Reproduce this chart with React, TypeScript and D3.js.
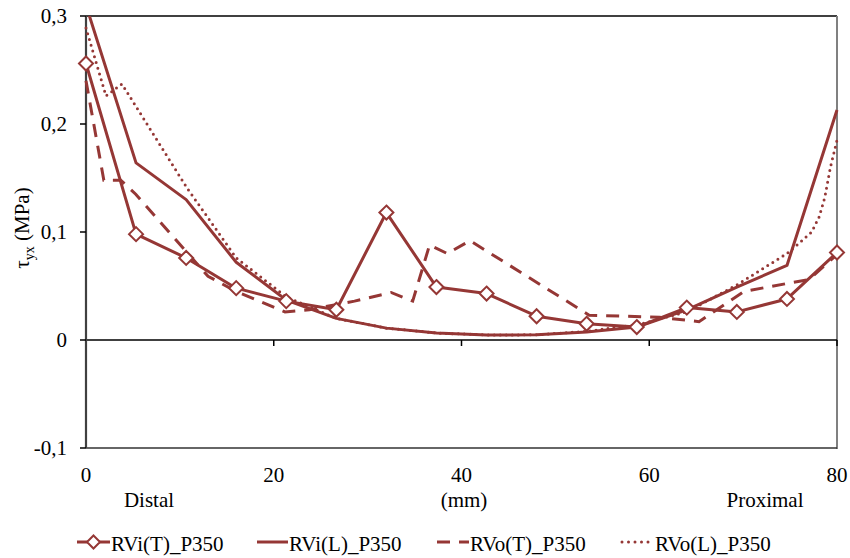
import React from "react";
import * as d3 from "d3";

// ---- data ----
const positionsMm = [0, 5.33, 10.67, 16, 21.33, 26.67, 32, 37.33, 42.67, 48, 53.33, 58.67, 64, 69.33, 74.67, 80];
const rviT = [0.256, 0.098, 0.076, 0.048, 0.036, 0.028, 0.118, 0.049, 0.043, 0.022, 0.015, 0.012, 0.030, 0.026, 0.038, 0.081];
const rviL = [0.31, 0.164, 0.130, 0.072, 0.037, 0.020, 0.011, 0.0065, 0.0046, 0.0048, 0.0074, 0.012, 0.028, 0.049, 0.069, 0.213];

const rvoTx = [0, 1.9, 3.7, 5.3, 13.0, 16.0, 21.2, 23.8, 28.6, 32.5, 34.8, 36.6, 38.5, 40.9, 53.6, 61.1, 65.3, 70.1, 77.0, 80];
const rvoTy = [0.240, 0.148, 0.148, 0.135, 0.059, 0.045, 0.026, 0.028, 0.036, 0.044, 0.036, 0.088, 0.080, 0.092, 0.023, 0.021, 0.017, 0.045, 0.056, 0.079];

const rvoLx = [0, 2.13, 3.83, 10.74, 16, 21.33, 26.67, 32, 37.33, 42.67, 48, 53.33, 58.67, 64, 69.33, 74.67, 76.0, 77.3, 78.1, 78.7, 79.3, 80];
const rvoLy = [0.289, 0.226, 0.237, 0.141, 0.076, 0.040, 0.020, 0.011, 0.0065, 0.0046, 0.0048, 0.008, 0.014, 0.026, 0.051, 0.080, 0.090, 0.100, 0.114, 0.132, 0.160, 0.185];

const xTicks = [0, 20, 40, 60, 80];
const yTicks = [0.3, 0.2, 0.1, 0, -0.1];
const seriesNames = ["RVi(T)_P350", "RVi(L)_P350", "RVo(T)_P350", "RVo(L)_P350"];

const COLOR = "#953735";
const FONT = "'Liberation Serif'";

export default function App() {
  const x = d3.scaleLinear().domain([0, 80]).range([86, 837]);
  const y = d3.scaleLinear().domain([-0.1, 0.3]).range([448, 16]);
  const line = d3
    .line<[number, number]>()
    .x((d) => x(d[0]))
    .y((d) => y(d[1]));

  const pts = (xs: number[], ys: number[]) => xs.map((v, i) => [v, ys[i]] as [number, number]);
  const fmt = (v: number) => (Math.abs(v) < 1e-9 ? "0" : d3.format(".1f")(v).replace(".", ",").replace("−", "-"));

  const diamond = (cx: number, cy: number, r = 7) =>
    `M${cx},${cy - r}L${cx + r},${cy}L${cx},${cy + r}L${cx - r},${cy}Z`;

  const [x0, x1] = x.range();
  const [yb, yt] = y.range();

  const legendY = 542;
  const legendItems = [
    { x1: 77, x2: 110, tx: 111, dash: undefined as string | undefined, cap: "butt", marker: true },
    { x1: 257, x2: 288, tx: 289, dash: undefined, cap: "butt", marker: false },
    { x1: 437, x2: 469, tx: 470, dash: "13,9", cap: "butt", marker: false },
    { x1: 622, x2: 653, tx: 655, dash: "0,6.5", cap: "round", marker: false },
  ];

  const T = (props: any) => (
    <text fontFamily="Liberation Serif" fontSize={21} fill="#000" style={{ fontFamily: FONT, fontSize: 21 }} {...props} />
  );

  return (
    <svg width={850} height={558} style={{ position: "absolute", left: 0, top: 0, background: "#fff" }}>
      <style>{`text, tspan { font-family: 'Liberation Serif' !important; }`}</style>
      <defs>
        <clipPath id="plotClip">
          <rect x={x0 - 8} y={yt} width={x1 - x0 + 16} height={yb - yt} />
        </clipPath>
      </defs>
      <rect x={0} y={0} width={850} height={558} fill="#fff" />

      {/* plot frame */}
      <line x1={x0} x2={x1} y1={yt} y2={yt} stroke="#000" strokeWidth={1.5} />
      <line x1={x1} x2={x1} y1={yt} y2={yb + 1} stroke="#808080" strokeWidth={2} />
      <line x1={x0} x2={x1} y1={yb} y2={yb} stroke="#333" strokeWidth={1.5} />
      {/* zero line / x axis */}
      <line x1={x0} x2={x1} y1={y(0)} y2={y(0)} stroke="#000" strokeWidth={1.5} />
      {xTicks.map((t) => (
        <line key={"xt" + t} x1={x(t)} x2={x(t)} y1={y(0)} y2={y(0) + 6} stroke="#000" strokeWidth={1.5} />
      ))}
      {/* y axis */}
      <line x1={x0} x2={x0} y1={yt} y2={yb} stroke="#404040" strokeWidth={2.2} />
      {yTicks.map((t) => (
        <line key={"yt" + t} x1={x0 - 6} x2={x0} y1={y(t)} y2={y(t)} stroke="#000" strokeWidth={1.5} />
      ))}

      {/* tick labels */}
      {yTicks.map((t) => (
        <T key={"yl" + t} x={67} y={y(t) + 7}  textAnchor="end">
          {fmt(t)}
        </T>
      ))}
      {xTicks.map((t) => (
        <T key={"xl" + t} x={x(t)} y={482} textAnchor="middle">
          {t}
        </T>
      ))}
      <T x={149} y={507} textAnchor="middle">Distal</T>
      <T x={464} y={507} textAnchor="middle">(mm)</T>
      <T x={765} y={507} textAnchor="middle">Proximal</T>

      {/* y axis title */}
      <T transform="translate(29,228) rotate(-90)" textAnchor="middle">
        <tspan>τ</tspan>
        <tspan fontSize={14} style={{ fontSize: 14 }} dy={5}>yx</tspan>
        <tspan dy={-5}> (MPa)</tspan>
      </T>

      {/* series */}
      <g clipPath="url(#plotClip)" fill="none" stroke={COLOR}>
        <path d={line(pts(rvoLx, rvoLy)) || ""} strokeWidth={3} strokeDasharray="0,6" strokeLinecap="round" />
        <path d={line(pts(rvoTx, rvoTy)) || ""} strokeWidth={3} strokeDasharray="13,9" />
        <path d={line(pts(positionsMm, rviL)) || ""} strokeWidth={3} strokeLinejoin="round" />
        <path d={line(pts(positionsMm, rviT)) || ""} strokeWidth={3} strokeLinejoin="round" />
      </g>
      <g>
        {positionsMm.map((p, i) => (
          <path key={"m" + i} d={diamond(x(p), y(rviT[i]))} fill="#fff" stroke={COLOR} strokeWidth={2} />
        ))}
      </g>

      {/* legend */}
      {legendItems.map((it, i) => (
        <g key={"lg" + i}>
          <line
            x1={it.x1}
            x2={it.x2}
            y1={legendY}
            y2={legendY}
            stroke={COLOR}
            strokeWidth={3}
            strokeDasharray={it.dash}
            strokeLinecap={it.cap as any}
          />
          {it.marker && (
            <path d={diamond((it.x1 + it.x2) / 2, legendY, 6.5)} fill="#fff" stroke={COLOR} strokeWidth={2} />
          )}
          <T x={it.tx} y={551}>
            {seriesNames[i]}
          </T>
        </g>
      ))}
    </svg>
  );
}
